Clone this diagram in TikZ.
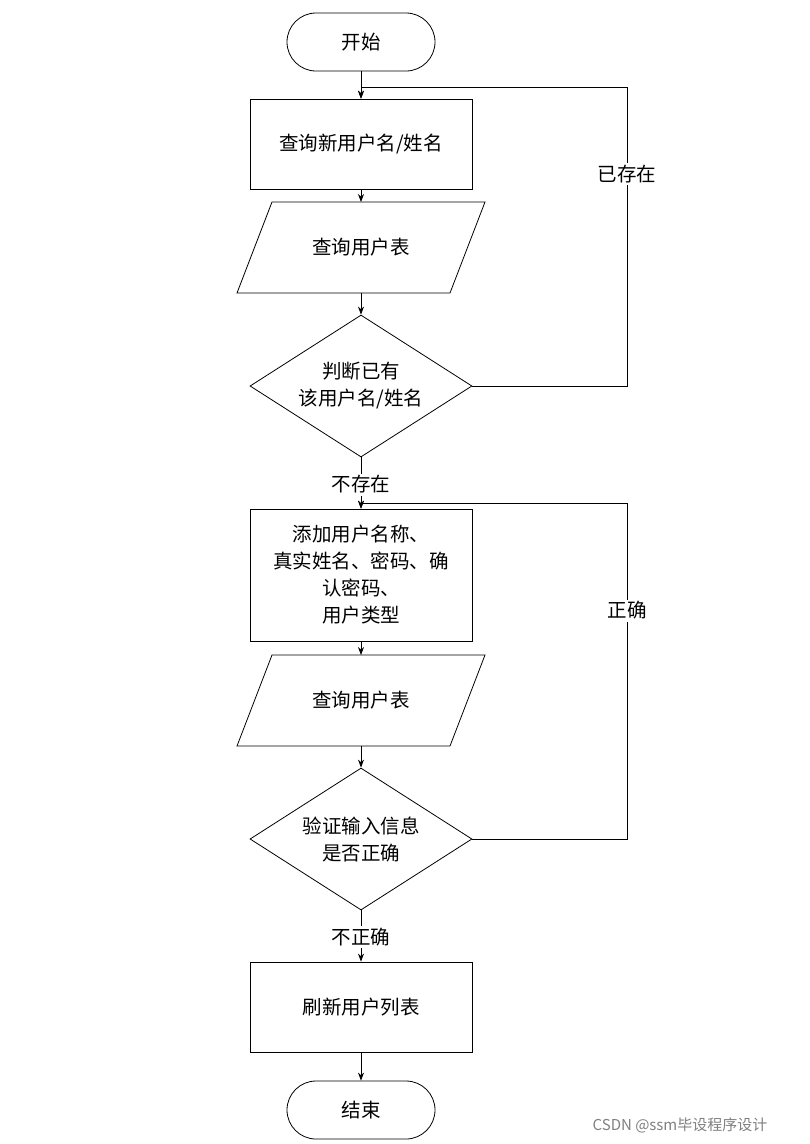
\documentclass[tikz,border=0pt]{standalone}
\usepackage{fontspec}
\setmainfont{Noto Sans CJK SC}
\usetikzlibrary{shapes.geometric,arrows.meta}
\begin{document}
\begin{tikzpicture}[x=1pt,y=-1pt,
  every node/.style={font=\fontsize{19.5}{27}\selectfont},
  box/.style={draw,thick,minimum width=222pt,align=center,inner sep=0},
  term/.style={draw,thick,rounded corners=29pt,minimum width=148pt,minimum height=58pt},
  dia/.style={draw,thick,diamond,minimum width=222pt,minimum height=142pt,aspect=1.56,inner sep=0,align=center},
  arr/.style={thick,-{Stealth[length=8pt,width=6pt]}},
  lbl/.style={fill=white,inner sep=2pt}]
\useasboundingbox (0,0) rectangle (810,1144);
\node[term] (s) at (361,42) {开始};
\node[box,minimum height=90pt] (r1) at (361,144) {查询新用户名/姓名};
\node (p1) at (361,247) {查询用户表};
\draw[thick] (272,202) -- (485,202) -- (450,293) -- (237,293) -- cycle;
\coordinate (p1t) at (361,202); \coordinate (p1b) at (361,293);
\node[dia] (d1) at (361,386) {判断已有\\该用户名/姓名};
\node[box,minimum height=132pt] (r2) at (361,575) {添加用户名称、\\真实姓名、密码、确\\认密码、\\用户类型};
\node (p2) at (361,700) {查询用户表};
\draw[thick] (272,655) -- (485,655) -- (450,746) -- (237,746) -- cycle;
\coordinate (p2t) at (361,655); \coordinate (p2b) at (361,746);
\node[dia] (d2) at (361,839) {验证输入信息\\是否正确};
\node[box,minimum height=90pt] (r3) at (361,1007) {刷新用户列表};
\node[term] (e) at (361,1110) {结束};
\draw[arr] (s) -- (r1);
\draw[arr] (r1) -- (p1t);
\draw[arr] (p1b) -- (d1);
\draw[arr] (d1) -- node[lbl,pos=0.53]{不存在} (r2);
\draw[arr] (r2) -- (p2t);
\draw[arr] (p2b) -- (d2);
\draw[arr] (d2) -- node[lbl,pos=0.52]{不正确} (r3);
\draw[arr] (r3) -- (e);
\coordinate (c1b) at (627,386); \coordinate (c1) at (627,87); \coordinate (c1e) at (361,87);
\draw[arr] (d1.east) -- (c1b) -- node[lbl,pos=0.71]{已存在} (c1) -- (c1e) -- (r1.north);
\coordinate (c2b) at (627,839); \coordinate (c2) at (627,503); \coordinate (c2e) at (361,503);
\draw[arr] (d2.east) -- (c2b) -- node[lbl,pos=0.68]{正确} (c2) -- (c2e) -- (r2.north);
\node[text=gray,font=\fontsize{15}{16}\selectfont] (w) at (680,1125) {CSDN @ssm毕设程序设计};
\end{tikzpicture}
\end{document}
